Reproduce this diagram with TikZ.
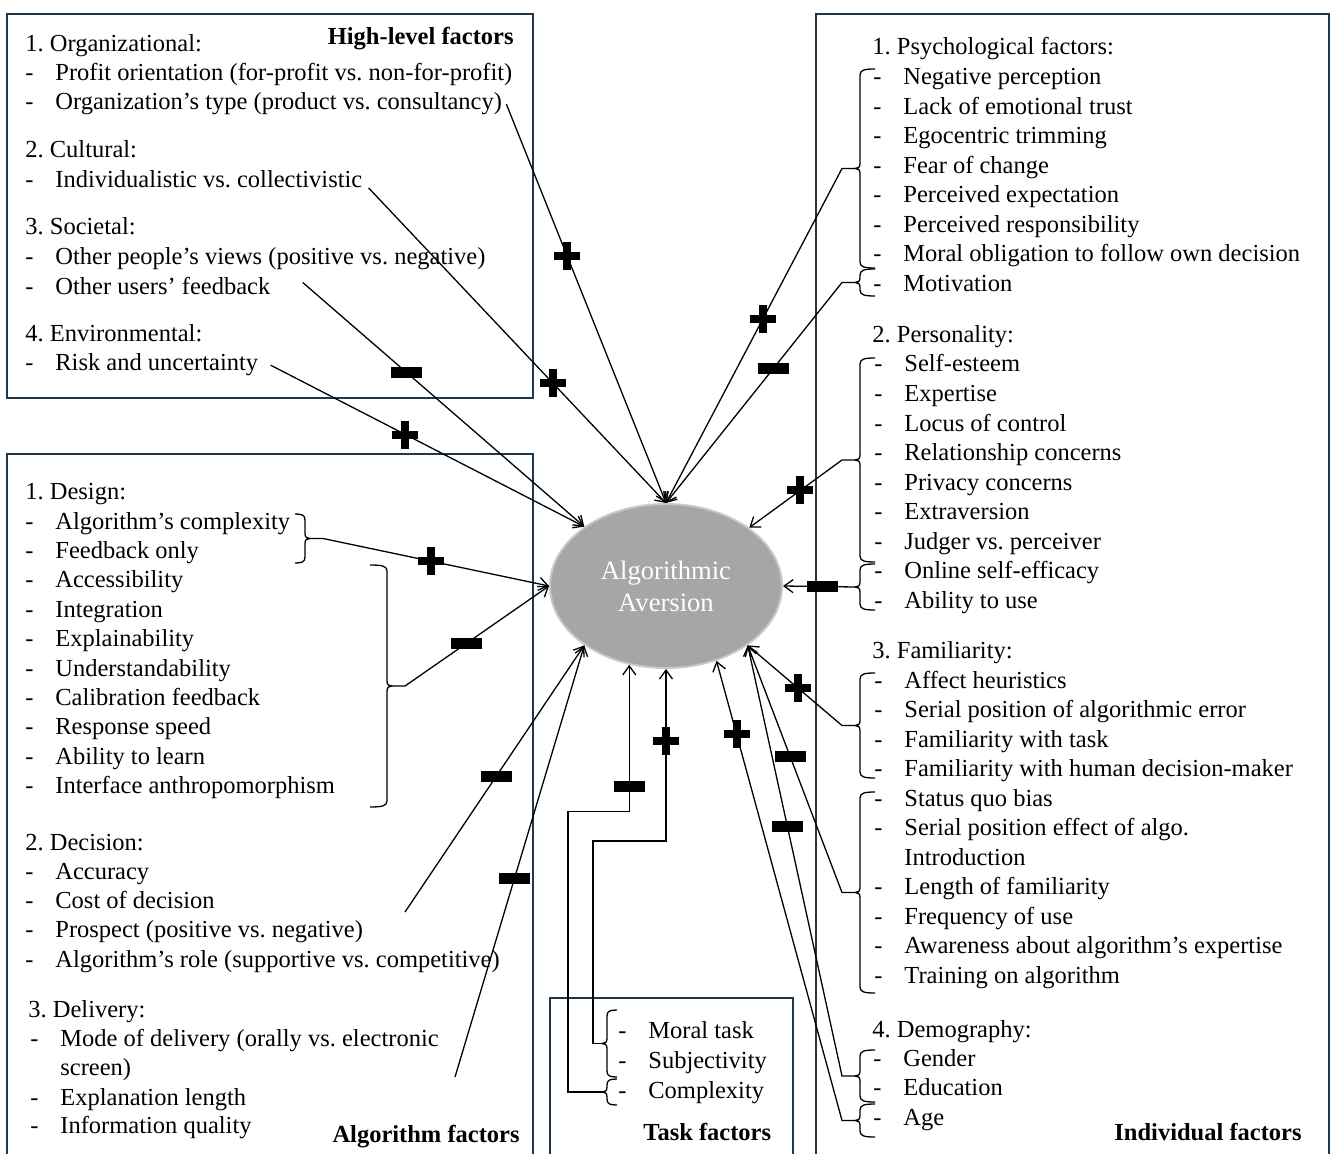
\documentclass[tikz,border=0pt]{standalone}
\usepackage{fontspec}
\setmainfont{Liberation Serif}
\usetikzlibrary{arrows.meta, shapes.geometric}
\frenchspacing

\definecolor{framecol}{RGB}{31,56,77}
\definecolor{avgray}{RGB}{166,166,166}
\definecolor{avrim}{RGB}{200,200,200}

% list item with a leading dash
\newcommand\itm[1]{\makebox[15pt][l]{-}#1}

% curly bracket: name of tip, x of the ends, top y, bottom y, side (1 tip left, -1 tip right), hook width
\newcommand\factorbrace[6]{%
  \pgfmathsetmacro\bh{(#4-#3)/2}%
  \begin{scope}[shift={(#2,{(#3+#4)/2})}, xscale=#5]
    \draw[brk] (0,-\bh) .. controls ({-0.7*#6},-\bh) and (-#6,{-\bh+1}) .. (-#6,{-\bh+6})
      -- (-#6,-5) .. controls (-#6,-1) and ({-#6-2},0) .. ({-#6-5},0)
      .. controls ({-#6-2},0) and (-#6,1) .. (-#6,5)
      -- (-#6,{\bh-6}) .. controls (-#6,{\bh-1}) and ({-0.7*#6},\bh) .. (0,\bh);
    \coordinate (#1) at ({-#6-5},0);
  \end{scope}}

\tikzset{
  plussign/.pic={\fill (-13,-4) rectangle (13,4); \fill (-4,-14) rectangle (4,14);},
  minussign/.pic={\fill (-15.5,-5.5) rectangle (15.5,5.5);}
}

\begin{document}
\begin{tikzpicture}[x=0.5pt, y=-0.5pt, >={Straight Barb[length=4.5pt,width=6.5pt]},
  font=\fontsize{12.25}{14.75}\selectfont,
  txt/.style={anchor=base west, inner sep=0pt},
  head/.style={anchor=base east, inner sep=0pt, font=\fontsize{12.25}{14.75}\selectfont\bfseries},
  boxline/.style={draw=framecol, line width=0.8pt},
  conn/.style={->, line width=0.65pt},
  brk/.style={line width=0.65pt, line join=round}]

\useasboundingbox (0,0) rectangle (1331,1154);

% Factor boxes
\draw[boxline] (7,14) rectangle (533,398);
\draw[boxline] (7,454) rectangle (533,1160);
\draw[boxline] (550,998) rectangle (793,1160);
\draw[boxline] (816,14) rectangle (1329,1160);

% High-level factors
\node[head] (hlhead) at (514,45) {High-level factors};
\node[txt] (orgh) at (25,52) {1. Organizational:};
\foreach \lbl [count=\i] in {Profit orientation (for-profit vs. non-for-profit), Organization’s type (product vs. consultancy)}
  \node[txt] (org\i) at (25,{52+29*\i}) {\itm{\lbl}};
\node[txt] (culh) at (25,158) {2. Cultural:};
\node[txt] (cul1) at (25,188) {\itm{Individualistic vs. collectivistic}};
\node[txt] (soch) at (25,235) {3. Societal:};
\foreach \lbl [count=\i] in {Other people’s views (positive vs. negative), Other users’ feedback}
  \node[txt] (soc\i) at (25,{235+30*\i}) {\itm{\lbl}};
\node[txt] (envh) at (25,342) {4. Environmental:};
\node[txt] (env1) at (25,371) {\itm{Risk and uncertainty}};

% Algorithm factors
\node[txt] (desh) at (25,499) {1. Design:};
\foreach \lbl [count=\i] in {Algorithm’s complexity, Feedback only, Accessibility, Integration, Explainability, Understandability, Calibration feedback, Response speed, Ability to learn, Interface anthropomorphism}
  \node[txt] (des\i) at (25,{529+29.4*(\i-1)}) {\itm{\lbl}};
\node[txt] (dech) at (25,850) {2. Decision:};
\foreach \lbl [count=\i] in {Accuracy, Cost of decision, Prospect (positive vs. negative), Algorithm’s role (supportive vs. competitive)}
  \node[txt] (dec\i) at (25,{879+29.4*(\i-1)}) {\itm{\lbl}};
\node[txt] (delh) at (28,1017) {3. Delivery:};
\node[txt] (del1) at (30,1046) {\itm{Mode of delivery (orally vs. electronic}};
\node[txt] (del1b) at (60,1075) {screen)};
\node[txt] (del2) at (30,1105) {\itm{Explanation length}};
\node[txt] (del3) at (30,1133) {\itm{Information quality}};
\node[head] (alhead) at (520,1142) {Algorithm factors};

% Task factors
\foreach \lbl [count=\i] in {Moral task, Subjectivity, Complexity}
  \node[txt] (tsk\i) at (618,{1008+30*\i}) {\itm{\lbl}};
\node[head, anchor=base west] (tkhead) at (643,1140) {Task factors};

% Individual factors
\node[txt] (psyh) at (872,55) {1. Psychological factors:};
\foreach \lbl [count=\i] in {Negative perception, Lack of emotional trust, Egocentric trimming, Fear of change, Perceived expectation, Perceived responsibility, Moral obligation to follow own decision, Motivation}
  \node[txt] (psy\i) at (873,{85+29.5*(\i-1)}) {\itm{\lbl}};
\node[txt] (perh) at (872,343) {2. Personality:};
\foreach \lbl [count=\i] in {Self-esteem, Expertise, Locus of control, Relationship concerns, Privacy concerns, Extraversion, Judger vs. perceiver, Online self-efficacy, Ability to use}
  \node[txt] (per\i) at (874,{372+29.5*(\i-1)}) {\itm{\lbl}};
\node[txt] (famh) at (872,658) {3. Familiarity:};
\foreach \lbl [count=\i] in {Affect heuristics, Serial position of algorithmic error, Familiarity with task, Familiarity with human decision-maker, Status quo bias, Serial position effect of algo.}
  \node[txt] (fam\i) at (874,{688+29.5*(\i-1)}) {\itm{\lbl}};
\node[txt] (famintro) at (904,865) {Introduction};
\foreach \lbl [count=\i] in {Length of familiarity, Frequency of use, Awareness about algorithm’s expertise, Training on algorithm}
  \node[txt] (famb\i) at (874,{865+29.5*\i}) {\itm{\lbl}};
\node[txt] (demh) at (872,1037) {4. Demography:};
\foreach \lbl [count=\i] in {Gender, Education, Age}
  \node[txt] (dem\i) at (873,{1066+29.5*(\i-1)}) {\itm{\lbl}};
\node[head] (inhead) at (1302,1140) {Individual factors};

% Central construct
\node[ellipse, fill=avgray, draw=avrim, line width=1pt, minimum width=116pt, minimum height=82pt,
  inner sep=0pt, text=white, align=center, font=\fontsize{13.3}{16}\selectfont] (av) at (666,586) {Algorithmic\\Aversion};

% Brackets
\factorbrace{psyA}{875}{69}{268}{1}{15}
\factorbrace{psyB}{875}{269}{296}{1}{15}
\factorbrace{perA}{875}{358}{562}{1}{15}
\factorbrace{perB}{875}{564}{610}{1}{15}
\factorbrace{famA}{875}{673}{778}{1}{15}
\factorbrace{famB}{875}{792}{993}{1}{15}
\factorbrace{demA}{875}{1050}{1102}{1}{15}
\factorbrace{demB}{875}{1104}{1137}{1}{15}
\factorbrace{desA}{295}{514}{563}{-1}{10}
\factorbrace{desB}{370}{565}{807}{-1}{17}
\factorbrace{tskA}{617}{1010}{1077}{1}{10}
\factorbrace{tskB}{617}{1079}{1105}{1}{10}

\coordinate (decend) at (405,912);
\coordinate (delend) at (455,1077);

% High-level links
\draw[conn] ([xshift=2pt]org2.east) -- pic[pos=0.38]{plussign} (av.north);
\draw[conn] ([xshift=3pt]cul1.base east) -- pic[pos=0.62]{plussign} (av.north);
\draw[conn] ([xshift=16pt,yshift=2pt]soc2.east) -- pic[pos=0.37]{minussign} (av.144);
\draw[conn] ([xshift=6pt]env1.east) -- pic[pos=0.43]{plussign} (av.144);

% Algorithm links
\draw[conn] (desA) -- ++(13,0) -- pic[pos=0.48]{plussign} (av.west);
\draw[conn] (desB) -- ++(13,0) -- pic[pos=0.43]{minussign} (av.west);
\draw[conn] (decend) -- pic[pos=0.51]{minussign} (av.216);
\draw[conn] (delend) -- pic[pos=0.46]{minussign} (av.216);

% Task links
\draw[conn] (tskA) -- ++(-9,0) |- ([yshift=-86pt]av.south) -- pic[pos=0.58]{plussign} (av.south);
\draw[conn] (tskB) -- ++(-34,0) |- ([yshift=-73.5pt]av.245) -- pic[pos=0.17]{minussign} (av.245);

% Individual links
\draw[conn] (psyA) -- ++(-13,0) -- pic[pos=0.45]{plussign} (av.north);
\draw[conn] (psyB) -- ++(-13,0) -- pic[pos=0.39]{minussign} (av.north);
\draw[conn] (perA) -- ++(-13,0) -- pic[pos=0.45]{plussign} (av.35);
\draw[conn] (perB) -- pic[pos=0.45]{minussign} (av.east);
\draw[conn] (famA) -- ++(-13,0) -- pic[pos=0.47]{plussign} (av.324);
\draw[conn] (famB) -- ++(-13,0) -- pic[pos=0.55]{minussign} (av.324);
\draw[conn] (demA) -- ++(-13,0) -- pic[pos=0.58]{minussign} (av.324);
\draw[conn] (demB) -- ++(-13,0) -- pic[pos=0.84]{plussign} (av.304);

\end{tikzpicture}
\end{document}
